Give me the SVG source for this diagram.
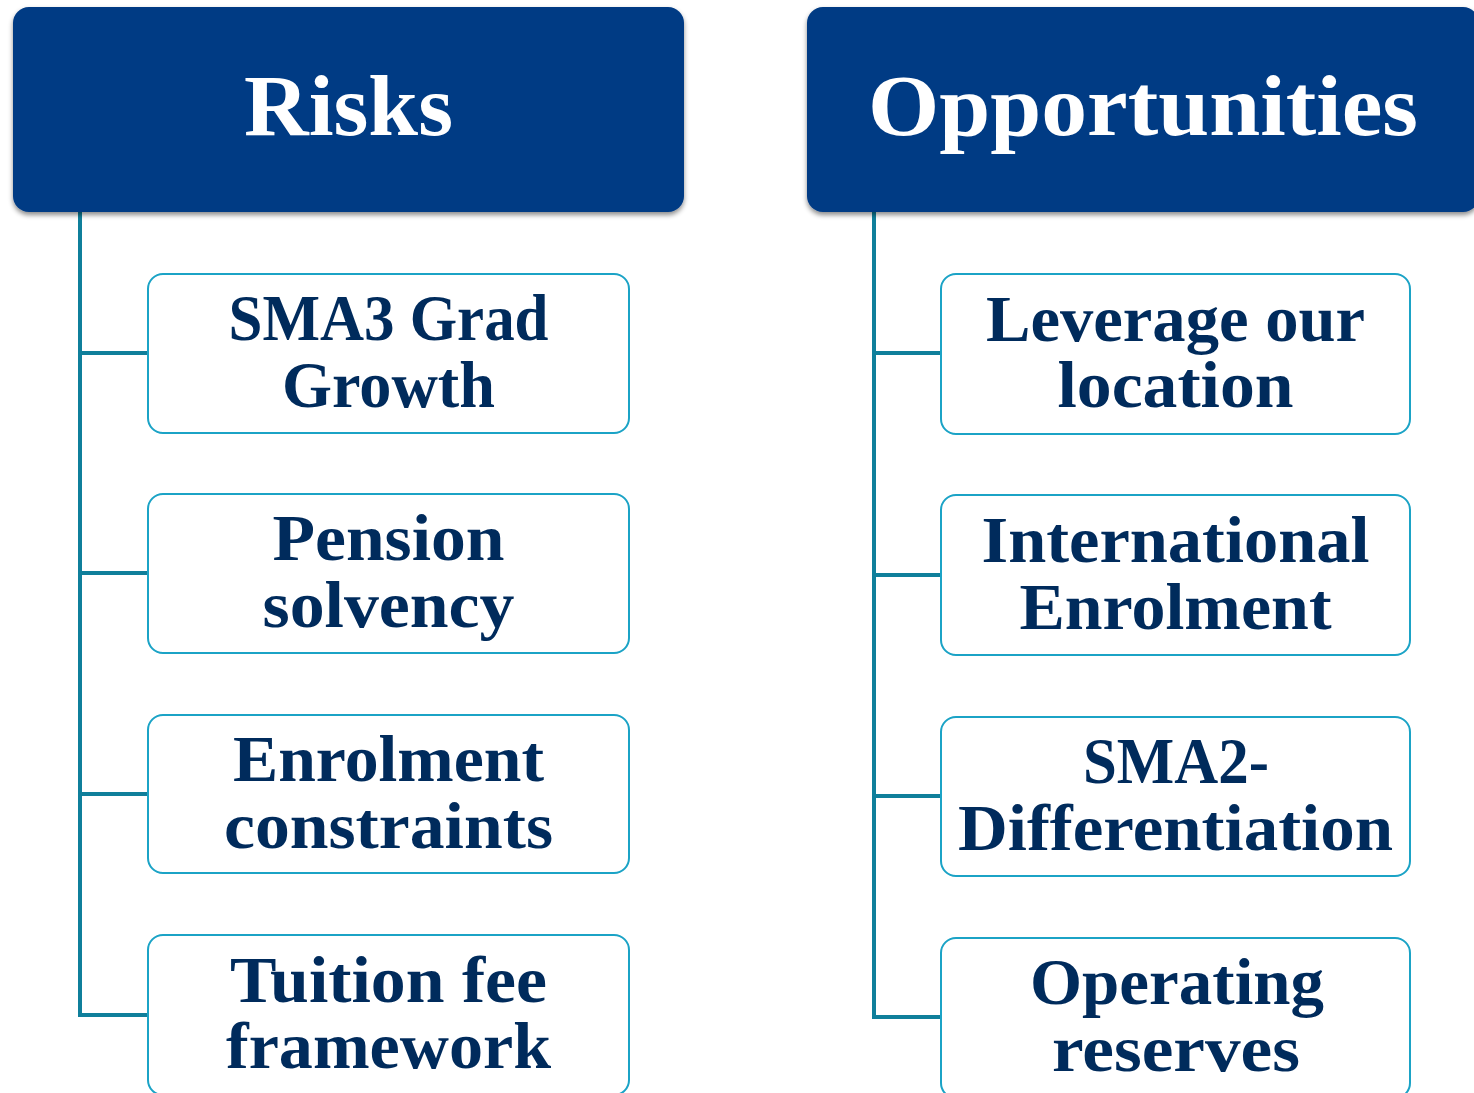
<svg xmlns="http://www.w3.org/2000/svg" width="1474" height="1093" viewBox="0 0 1474 1093">
<defs>
<filter id="sh" x="-5%" y="-10%" width="110%" height="130%">
<feDropShadow dx="0" dy="3" stdDeviation="2.5" flood-color="#000" flood-opacity="0.45"/>
</filter>
</defs>
<style>
.hdr{fill:#003B84;filter:url(#sh)}
.htxt{font-family:"Liberation Serif","Times New Roman",serif;font-weight:bold;font-size:86px;fill:#ffffff;text-anchor:middle}
.box{fill:#ffffff;stroke:#1BA3C6;stroke-width:2}
.btxt{font-family:"Liberation Serif","Times New Roman",serif;font-weight:bold;font-size:66px;fill:#002B5C;text-anchor:middle}
.con{fill:none;stroke:#0F7F9B;stroke-width:4}
</style>
<rect width="1474" height="1093" fill="#ffffff"/>
<g id="connectors">
<path class="con" d="M80,212 V1015 H148 M80,353 H148 M80,573 H148 M80,794 H148"/>
<path class="con" d="M874,212 V1017 H941 M874,353 H941 M874,575 H941 M874,796 H941"/>
</g>
<g id="risks">
<rect class="hdr" x="13" y="7" width="671" height="205" rx="16"/>
<text class="htxt" x="348.5" y="135" textLength="209" lengthAdjust="spacingAndGlyphs">Risks</text>
</g>
<g id="opportunities">
<rect class="hdr" x="807" y="7" width="672" height="205" rx="16"/>
<text class="htxt" x="1143" y="135" textLength="550" lengthAdjust="spacingAndGlyphs">Opportunities</text>
</g>
<g id="r1">
<rect class="box" x="148" y="274" width="481" height="159" rx="15"/>
<text class="btxt" x="388.5" y="340" textLength="320" lengthAdjust="spacingAndGlyphs">SMA3 Grad</text>
<text class="btxt" x="388.5" y="407" textLength="213" lengthAdjust="spacingAndGlyphs">Growth</text>
</g>
<g id="r2">
<rect class="box" x="148" y="494" width="481" height="159" rx="15"/>
<text class="btxt" x="388.5" y="560" textLength="232" lengthAdjust="spacingAndGlyphs">Pension</text>
<text class="btxt" x="388.5" y="627" textLength="252" lengthAdjust="spacingAndGlyphs">solvency</text>
</g>
<g id="r3">
<rect class="box" x="148" y="715" width="481" height="158" rx="15"/>
<text class="btxt" x="388.5" y="781" textLength="311" lengthAdjust="spacingAndGlyphs">Enrolment</text>
<text class="btxt" x="388.5" y="848" textLength="329" lengthAdjust="spacingAndGlyphs">constraints</text>
</g>
<g id="r4">
<rect class="box" x="148" y="935" width="481" height="160" rx="15"/>
<text class="btxt" x="388.5" y="1002" textLength="317" lengthAdjust="spacingAndGlyphs">Tuition fee</text>
<text class="btxt" x="388.5" y="1068" textLength="325" lengthAdjust="spacingAndGlyphs">framework</text>
</g>
<g id="o1">
<rect class="box" x="941" y="274" width="469" height="160" rx="15"/>
<text class="btxt" x="1175.5" y="341" textLength="379" lengthAdjust="spacingAndGlyphs">Leverage our</text>
<text class="btxt" x="1175.5" y="407" textLength="236" lengthAdjust="spacingAndGlyphs">location</text>
</g>
<g id="o2">
<rect class="box" x="941" y="495" width="469" height="160" rx="15"/>
<text class="btxt" x="1175.5" y="562" textLength="388" lengthAdjust="spacingAndGlyphs">International</text>
<text class="btxt" x="1175.5" y="629" textLength="312" lengthAdjust="spacingAndGlyphs">Enrolment</text>
</g>
<g id="o3">
<rect class="box" x="941" y="717" width="469" height="159" rx="15"/>
<text class="btxt" x="1176" y="783" textLength="186" lengthAdjust="spacingAndGlyphs">SMA2-</text>
<text class="btxt" x="1175.5" y="850" textLength="435" lengthAdjust="spacingAndGlyphs">Differentiation</text>
</g>
<g id="o4">
<rect class="box" x="941" y="938" width="469" height="160" rx="15"/>
<text class="btxt" x="1177" y="1004" textLength="294" lengthAdjust="spacingAndGlyphs">Operating</text>
<text class="btxt" x="1176" y="1071" textLength="248" lengthAdjust="spacingAndGlyphs">reserves</text>
</g>
</svg>
